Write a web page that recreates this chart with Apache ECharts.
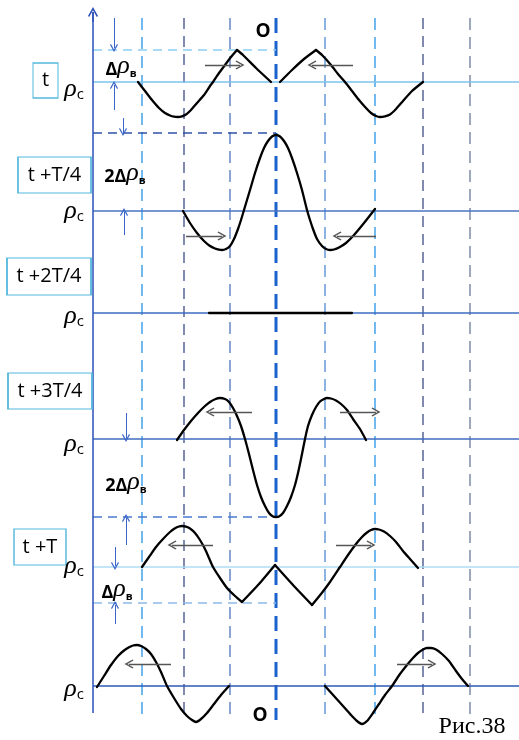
<!DOCTYPE html>
<html><head><meta charset="utf-8">
<script src="https://cdn.jsdelivr.net/npm/echarts@6/dist/echarts.min.js"></script>
<style>html,body{margin:0;padding:0;background:#fff}#c{width:519px;height:740px}</style>
</head><body><div id="c"></div>
<script>
// ---- data (x: distance from point O; y: height above bottom edge; wave values: deviation from ρc) ----
const rowLabels = ['t', 't +T/4', 't +2T/4', 't +3T/4', 't +T', ''];
const baseLevels = [658, 529, 427, 301, 173, 54];          // level of each ρc line
const gridX = [-134, -92, -46, 0, 49, 99, 147, 194];        // vertical dashed lines
const gridKinds = ['light', 'navy', 'steel', 'center', 'steel2', 'light', 'navy', 'gray'];

// wave pieces: [[x, deviation], ...]
const waveRow1a = [[-138,0],[-131,-9],[-124,-18],[-117,-26],[-111,-31],[-106,-33.5],[-102,-34.7],[-98,-35],[-94,-34.3],[-90,-32.5],[-85,-28],[-79,-21],[-72,-13],[-66,-4],[-63,0],[-57,9],[-51,17],[-45,25],[-39,32]];
const waveRow1b = [[-39,32],[-33,27],[-20,14],[-5,0]];
const waveRow1c = [[4,0],[16,12],[28,23],[40,32]];
const waveRow1d = [[40,32],[46,27],[55,17],[62,8],[69,0],[76,-9],[83,-18],[90,-26],[95,-31],[100,-34],[104,-35],[109,-34.3],[114,-32.5],[120,-27],[127,-19],[136,-9],[147,0]];
const waveRow2 = [[-93,0],[-86,-12],[-79,-22],[-72,-30],[-66,-35],[-61,-37.5],[-57,-38.7],[-54,-39],[-50,-38],[-46,-35],[-42,-28],[-38,-18],[-35,-9],[-32,1],[-26,21],[-21,38],[-16,53],[-12,63],[-8,70],[-4,74.5],[0,76],
  [4,74.5],[8,70],[12,63],[16,53],[21,38],[26,21],[31,1],[34,-9],[37,-18],[41,-28],[46,-35],[50,-38],[54,-39],[58,-38.5],[63,-36.5],[70,-32],[78,-24],[88,-12],[99,2]];
const waveRow3 = [[-67,0],[76,0]];
const waveRow4 = [[-99,-1],[-92,9],[-85,18],[-78,26],[-71,33],[-66,37],[-61,39.8],[-56,41],[-51,40],[-47,37],[-43,31],[-39,23],[-35,13],[-31,0],[-27,-15],[-23,-31],[-19,-46],[-15,-58],[-11,-67],[-7,-74],[-3,-77.5],[0,-78],
  [3,-77.5],[7,-74],[11,-67],[15,-58],[19,-46],[22,-34],[25,-20],[29,0],[32,13],[36,24],[40,32],[44,37.5],[48,40],[51,41],[55,40.5],[60,38.5],[65,35],[71,29],[77,20],[84,10],[90,-1]];
const waveRow5a = [[-134,0],[-127,10],[-120,20],[-113,28],[-106,35],[-101,38.7],[-97,40.5],[-94,41],[-90,40.3],[-86,38.5],[-81,34],[-76,27],[-71,18],[-67,9],[-63,0],[-56,-11],[-49,-21],[-41,-29],[-34,-35]];
const waveRow5b = [[-34,-35],[-17,-17],[-1,2]];
const waveRow5c = [[-1,2],[17,-18],[36,-38]];
const waveRow5d = [[36,-38],[45,-27],[54,-15],[64,0],[72,12],[80,23],[86,30],[91,34.5],[95,37],[99,38],[103,37.5],[108,35.5],[114,31],[120,25],[127,16],[134,8],[142,-1]];
const waveRow6a = [[-179,-1],[-172,10],[-165,21],[-158,30],[-152,35.5],[-147,38.7],[-143,40.5],[-139,41],[-135,40],[-130,37],[-125,32],[-120,24],[-115,14],[-109,0],[-102,-12],[-95,-23],[-89,-30],[-84,-34],[-80,-36],[-75,-33],[-69,-27],[-62,-18],[-55,-9],[-47,0]];
const waveRow6b = [[49,0],[58,-10],[67,-20],[75,-29],[81,-35],[86,-38],[91,-35],[97,-27],[103,-18],[109,-9],[116,0],[124,12],[131,21],[137,28],[142,33],[147,36.5],[151,38],[155,38],[160,36.5],[166,32],[173,25],[180,15],[186,7],[192,0]];
const wavePieces = [[0,waveRow1a],[0,waveRow1b],[0,waveRow1c],[0,waveRow1d],[1,waveRow2],[2,waveRow3],[3,waveRow4],
  [4,waveRow5a],[4,waveRow5b],[4,waveRow5c],[4,waveRow5d],[5,waveRow6a],[5,waveRow6b]];

// direction arrows: [row, xFrom, xTo, deviation]
const waveArrows = [[0,-71,-36,17],[0,77,36,17],[1,-90,-54,-25],[1,100,61,-25],[3,-24,-66,27],[3,64,100,27],
  [4,-63,-104,22],[4,60,95,22],[5,-105,-147,22],[5,121,156,22]];

// amplitude guides (dashed)
const guideLevels = [690, 607, 223, 137];
const guideColors = ['#8ccdf2', '#2f52a8', '#4a7ad0', '#8fbbe8'];
// small amplitude arrows: [x, levelFrom, levelTo]
const ampArrows = [[-162,722,692],[-162,630,655],[-153,622,608],[-152,505,528],[-150,327,302],[-150,195,222],[-161,193,174],[-161,116,135]];

const deltaLabels = [[-155,673,'Δ'],[-151,566,'2Δ'],[-150,257,'2Δ'],[-159,150,'Δ']];
const boxCenters = [[-230.5,659.5],[-221.5,565],[-227,463.5],[-226,349],[-236,193]];
const boxSizes = [[25,35],[73,36],[84,37],[84,36],[52,36]];
const rhoLabelX = -202;
const rhoLabelLevels = [650, 528, 423, 295, 173, 50];
const oLabels = [[-13,708],[-16,24]];
const figCaption = 'Рис.38';
const captionPos = [196, 13];
const axisX = -183, axisTop = 728, axisBottom = 27;
const lineRight = 243, gridTop = 722, gridBottom = 20;

// ---- build ----
const chev = 'path://M5,0 L10,9 L8.8,10 L5,3.2 L1.2,10 L0,9 Z';
const kindStyle = {
  light: {color:'#4ea8ea', width:1.6, type:[12,7]},
  navy: {color:'#1b2a6e', width:1.1, type:[11,7]},
  steel: {color:'#5c7fc0', width:1.4, type:[12,7]},
  steel2: {color:'#5b92d8', width:1.4, type:[12,7]},
  gray: {color:'#76839f', width:1.4, type:[12,7]},
  center: {color:'#1a63cc', width:3, type:[15,8]}
};
const baseColors = ['#7cc3ee', '#4a74c4', '#3d6bc0', '#3f6cc0', '#aedcf6', '#2d5ab8'];
const series = [];
function line(data, ls, z) {
  series.push({type:'line', data, symbol:'none', silent:true, animation:false, z:z||2, lineStyle:ls});
}
gridX.forEach((x,i)=>line([[x,gridTop],[x,gridBottom]], kindStyle[gridKinds[i]], 1));
baseLevels.forEach((b,i)=>line([[axisX,b],[lineRight,b]], {color:baseColors[i], width:1.4}, 2));
guideLevels.forEach((g,i)=>line([[axisX,g],[0,g]], {color:guideColors[i], width:1.3, type:[9,6]}, 2));
line([[axisX,axisBottom],[axisX,axisTop]], {color:'#2c50b8', width:1.5}, 3);
wavePieces.forEach(([r,pts])=>{
  series.push({type:'line', data: pts.map(p=>[p[0], baseLevels[r]+p[1]]), symbol:'none', smooth:0.2,
    silent:true, animation:false, z:5, lineStyle:{color:'#000', width:2.3, join:'round', cap:'round'}});
});
// arrows via lines series
series.push({type:'lines', coordinateSystem:'cartesian2d', silent:true, animation:false, z:6,
  symbol:['none', chev], symbolSize:[9,9],
  lineStyle:{color:'#555', width:1.4, opacity:1},
  data: waveArrows.map(([r,a,b,d])=>({coords:[[a,baseLevels[r]+d],[b,baseLevels[r]+d]]}))});
series.push({type:'lines', coordinateSystem:'cartesian2d', silent:true, animation:false, z:6,
  symbol:['none', chev], symbolSize:[7,8],
  lineStyle:{color:'#3a66c8', width:1, opacity:1},
  data: ampArrows.map(([x,a,b])=>({coords:[[x,a],[x,b]]}))});
series.push({type:'lines', coordinateSystem:'cartesian2d', silent:true, animation:false, z:6,
  symbol:['none', chev], symbolSize:[10,10],
  lineStyle:{color:'#2c50b8', width:1.5, opacity:1},
  data: [{coords:[[axisX,axisTop-10],[axisX,axisTop]]}]});

// boxes
series.push({type:'scatter', silent:true, animation:false, z:7, symbol:'rect',
  data: boxCenters.map((c,i)=>({value:c, symbolSize:boxSizes[i]})),
  itemStyle:{color:'#fff', borderColor:'#55b8dd', borderWidth:1.2, opacity:1},
  label:{show:true, position:'inside', formatter:(p)=>rowLabels[p.dataIndex], color:'#000', opacity:1,
    fontFamily:'Open Sans', fontSize:20}});
// text labels
const rich = {
  n:{fontFamily:'Open Sans', fontWeight:'bold', fontSize:18, color:'#000', verticalAlign:'bottom', lineHeight:24},
  r:{fontFamily:'Liberation Serif', fontStyle:'italic', fontSize:26, color:'#000', verticalAlign:'bottom', lineHeight:24},
  s:{fontFamily:'Open Sans', fontSize:11, color:'#000', verticalAlign:'bottom', lineHeight:20, fontWeight:'bold'},
  c:{fontFamily:'Open Sans', fontSize:15, color:'#000', verticalAlign:'bottom', lineHeight:20}
};
const texts = [];
deltaLabels.forEach(([x,y,t])=>texts.push({value:[x,y], label:{formatter:'{n|'+t+'}{r|ρ}{s|в}'}}));
rhoLabelLevels.forEach(l=>texts.push({value:[rhoLabelX,l], label:{formatter:'{r|ρ}{c|c}'}}));
oLabels.forEach(([x,y])=>texts.push({value:[x,y], label:{formatter:'O', fontFamily:'Open Sans', fontWeight:'bold', fontSize:19, color:'#000'}}));
texts.push({value:captionPos, label:{formatter:figCaption, fontFamily:'Liberation Serif', fontSize:24, color:'#000'}});
series.push({type:'scatter', silent:true, animation:false, z:8, symbolSize:0, data:texts,
  itemStyle:{opacity:1},
  label:{show:true, position:'inside', rich, opacity:1, color:'#000'}});

const chart = echarts.init(document.getElementById('c'), null, {renderer:'canvas'});
chart.setOption({
  animation:false,
  grid:{left:0, right:0, top:0, bottom:0, containLabel:false},
  xAxis:{type:'value', min:-276, max:243, show:false},
  yAxis:{type:'value', min:0, max:740, show:false},
  series
});
</script></body></html>
